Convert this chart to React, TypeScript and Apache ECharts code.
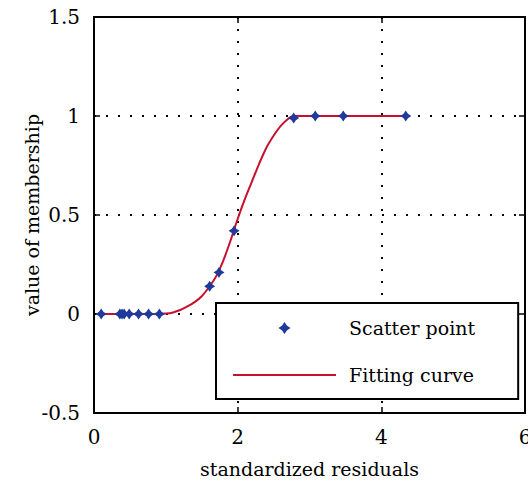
import React, { useEffect, useRef } from "react";
import * as echarts from "echarts";

const scatterX = [0.1, 0.36, 0.39, 0.42, 0.49, 0.62, 0.76, 0.91, 1.61, 1.74, 1.95, 2.78, 3.08, 3.47, 4.34];
const scatterY = [0, 0, 0, 0, 0, 0, 0, 0, 0.14, 0.21, 0.42, 0.99, 1, 1, 1];

const curveX = [0.1, 0.5, 0.9, 1.0, 1.1, 1.2, 1.3, 1.4, 1.5, 1.6, 1.7, 1.8, 1.9, 2.0, 2.1, 2.2, 2.3, 2.4, 2.5, 2.6, 2.7, 2.78, 4.34];
const curveY = [0, 0, 0, 0.002, 0.008, 0.02, 0.038, 0.06, 0.09, 0.135, 0.19, 0.27, 0.37, 0.48, 0.58, 0.67, 0.76, 0.84, 0.9, 0.95, 0.985, 1, 1];

const seriesNames = ["Scatter point", "Fitting curve"];
const xTitle = "standardized residuals";
const yTitle = "value of membership";

const FONT = "DejaVu Serif";
const STAR = "path://M0,-5 L2,-2 L5,0 L2,2 L0,5 L-2,2 L-5,0 L-2,-2 Z";

export default function App() {
  const ref = useRef<HTMLDivElement>(null);
  useEffect(() => {
    if (!ref.current) return;
    const chart = echarts.init(ref.current, undefined, { renderer: "svg" });
    const dotted = { show: true, lineStyle: { color: "#000", width: 2, type: [2, 10] as any } };
    const axisLine = { show: true, onZero: false, lineStyle: { color: "#000", width: 2 } };
    const tick = { show: true, inside: true, length: 6, lineStyle: { color: "#000", width: 1.5 } };
    chart.setOption({
      animation: false,
      backgroundColor: "#fff",
      grid: { left: 94, width: 431, top: 17, height: 396, containLabel: false, outerBoundsMode: "none" },
      legend: {
        orient: "vertical",
        left: 216,
        top: 303,
        data: [
          { name: seriesNames[0] },
          { name: seriesNames[1], itemStyle: { opacity: 0 } },
        ],
        backgroundColor: "#fff",
        borderColor: "#000",
        borderWidth: 2,
        borderRadius: 0,
        padding: [13, 43, 12, 16],
        itemWidth: 103,
        itemHeight: 12,
        itemGap: 23,
        textStyle: { fontFamily: FONT, fontSize: 19, color: "#000", lineHeight: 24, padding: [0, 0, 0, 8] },
      },
      xAxis: [
        {
          type: "value", min: 0, max: 6, interval: 2, position: "bottom",
          axisLine, axisTick: tick,
          axisLabel: { fontFamily: FONT, fontSize: 20, color: "#000", margin: 14 },
          splitLine: dotted,
          name: xTitle, nameLocation: "middle", nameGap: 46,
          nameTextStyle: { fontFamily: FONT, fontSize: 19, color: "#000" },
        },
        {
          type: "value", min: 0, max: 6, interval: 2, position: "top",
          axisLine, axisTick: tick, axisLabel: { show: false }, splitLine: { show: false },
        },
      ],
      yAxis: [
        {
          type: "value", min: -0.5, max: 1.5, interval: 0.5, position: "left",
          axisLine, axisTick: tick,
          axisLabel: { fontFamily: FONT, fontSize: 20, color: "#000", margin: 14 },
          splitLine: dotted,
          name: yTitle, nameLocation: "middle", nameGap: 53, nameMoveOverlap: false,
          nameTextStyle: { fontFamily: FONT, fontSize: 19, color: "#000" },
        },
        {
          type: "value", min: -0.5, max: 1.5, interval: 0.5, position: "right",
          axisLine, axisTick: tick, axisLabel: { show: false }, splitLine: { show: false },
        },
      ],
      series: [
        {
          name: seriesNames[1],
          type: "line",
          data: curveX.map((x, i) => [x, curveY[i]]),
          smooth: 0.3,
          symbol: "none",
          lineStyle: { color: "#c8102e", width: 2 },
          itemStyle: { color: "#c8102e" },
          z: 2,
        },
        {
          name: seriesNames[0],
          type: "scatter",
          data: scatterX.map((x, i) => [x, scatterY[i]]),
          symbol: STAR,
          symbolSize: 11,
          symbolKeepAspect: true,
          itemStyle: { color: "#1f3a9a", opacity: 1 },
          z: 3,
        },
      ],
    });
    return () => chart.dispose();
  }, []);
  return <div ref={ref} style={{ width: 528, height: 482, position: "absolute", left: 0, top: 0 }} />;
}
